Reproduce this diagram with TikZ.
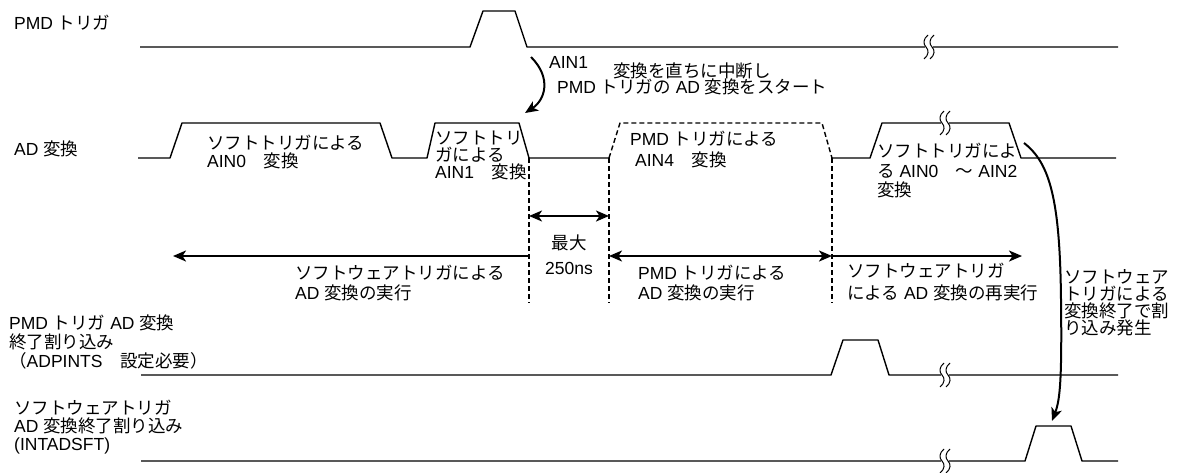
\documentclass[tikz,border=0pt]{standalone}
\usepackage{fontspec}
\setmainfont{Liberation Sans}
\newfontfamily\jpfont{Noto Sans CJK JP}
\usetikzlibrary{arrows.meta}
% kana, kanji and full-width forms go to the Japanese font
\XeTeXinterchartokenstate=1
\newXeTeXintercharclass\jpclass
\makeatletter
\def\setjprange#1#2{\count@=#1\relax
  \loop\XeTeXcharclass\count@=\jpclass
  \ifnum\count@<#2\relax\advance\count@\@ne\repeat}
\setjprange{"3000}{"30FF}
\setjprange{"4E00}{"9FFF}
\setjprange{"FF00}{"FFEF}
\makeatother
\XeTeXinterchartoks 0 \jpclass = {\jpfont}
\XeTeXinterchartoks 4095 \jpclass = {\jpfont}
\XeTeXinterchartoks \jpclass 0 = {\rmfamily}
\XeTeXinterchartoks \jpclass 4095 = {\rmfamily}
\begin{document}
\begin{tikzpicture}[x=1pt, y=-1pt,
  >={Stealth[length=13pt, width=11pt, inset=3.5pt]},
  sig/.style={line width=1.4pt, line join=round},
  dsig/.style={sig, dash pattern=on 5pt off 3pt},
  guide/.style={line width=1.3pt, dash pattern=on 5pt off 3pt},
  arr/.style={line width=2pt, ->},
  darr/.style={line width=2pt, <->},
  lbl/.style={anchor=north west, inner sep=0pt, align=left, font=\fontsize{17.5}{18}\selectfont}]
\useasboundingbox (0,0) rectangle (1180,472);
% signal names
\node[lbl] (trg) at (14,15) {PMD トリガ};
\node[lbl] (adc) at (14,141) {AD 変換};
\node[lbl] (pint) at (9,315) {PMD トリガ AD 変換\\[1pt]終了割り込み\\[1pt]（ADPINTS　設定必要）};
\node[lbl] (sint) at (14,400) {ソフトウェアトリガ\\AD 変換終了割り込み\\(INTADSFT)};
% waveforms
\draw[sig] (140,47) -- (470,47) -- (483,11) -- (515,11) -- (527,47) -- (1118,47);
\draw[sig] (138,158) -- (170,158) -- (182,123) -- (380,123) -- (392,158) -- (427,158)
  -- (435,123) -- (519,123) -- (529,158) -- (609,158);
\draw[dsig] (609,158) -- (620,123) -- (822,123) -- (832,158);
\draw[sig] (832,158) -- (870,158) -- (882,123) -- (1009,123) -- (1021,158) -- (1116,158);
\draw[sig] (141,375) -- (831,375) -- (843,340) -- (878,340) -- (889,375) -- (1118,375);
\draw[sig] (141,461) -- (1025,461) -- (1036,426) -- (1071,426) -- (1082,461) -- (1118,461);
% time breaks
\foreach \bx/\by in {926/47, 942/123, 942/375, 942/461} {
  \fill[white] (\bx-1,\by-5) rectangle (\bx+7,\by+5);
  \foreach \dx in {0,6}
    \draw[line width=1pt] (\bx+\dx+2,\by-12) .. controls (\bx+\dx-3,\by-8) and (\bx+\dx-3,\by-3) .. (\bx+\dx,\by)
      .. controls (\bx+\dx+3,\by+3) and (\bx+\dx+3,\by+8) .. (\bx+\dx-2,\by+12); }
% dashed guides
\foreach \gx [count=\i] in {529,609,832} {
  \coordinate (t\i) at (\gx,158); \coordinate (b\i) at (\gx,303);
  \draw[guide] (t\i) -- (b\i); }
% conversion texts
\node[lbl] (s0) at (207,135) {ソフトトリガによる\\AIN0　変換};
\node[lbl] (s1) at (435,131) {ソフトトリ\\[-1pt]ガによる\\[-1pt]AIN1　変換};
\node[lbl] (p4) at (630,131) {PMD トリガによる\\[3pt]\hspace*{5pt}AIN4　変換};
\node[lbl] (s2) at (877,143) {ソフトトリガによ\\[2pt]る AIN0　～ AIN2\\[1pt]変換};
% PMD trigger aborts AIN1
\node[lbl] (ain1) at (549,56) {AIN1};
\node[lbl] (abort) at (613,63) {変換を直ちに中断し};
\node[lbl] (start) at (557,79) {PMD トリガの AD 変換をスタート};
\coordinate (ts) at (531,57); \coordinate (te) at (525,113);
\draw[arr] (ts) .. controls (552,78) and (545,100) .. (te);
% spans
\coordinate (w1) at (529,216); \coordinate (w2) at (609,216);
\draw[darr] (w1) -- (w2);
\node[lbl, anchor=north, align=center] (maxt) at (569,235) {最大\\[7pt]250ns};
\coordinate (l0) at (173,256); \coordinate (l1) at (529,256); \coordinate (l2) at (609,256);
\coordinate (l3) at (832,256); \coordinate (l4) at (1022,256);
\draw[arr] (l1) -- (l0);
\draw[darr] (l2) -- (l3);
\draw[arr] (l3) -- (l4);
\node[lbl] (swrun) at (295,265) {ソフトウェアトリガによる\\[2pt]AD 変換の実行};
\node[lbl] (pmdrun) at (638,265) {PMD トリガによる\\[2pt]AD 変換の実行};
\node[lbl] (swre) at (847,263) {ソフトウェアトリガ\\[4pt]による AD 変換の再実行};
% end of software conversion raises the interrupt
\coordinate (es) at (1024,143); \coordinate (ee) at (1052,421);
\draw[arr] (es) .. controls (1050,163) and (1060,200) .. (1061,300)
  .. controls (1062,380) and (1060,400) .. (ee);
\node[lbl] (swend) at (1064,269) {ソフトウェア\\[-1pt]トリガによる\\[-1pt]変換終了で割\\[-1pt]り込み発生};
\end{tikzpicture}
\end{document}
